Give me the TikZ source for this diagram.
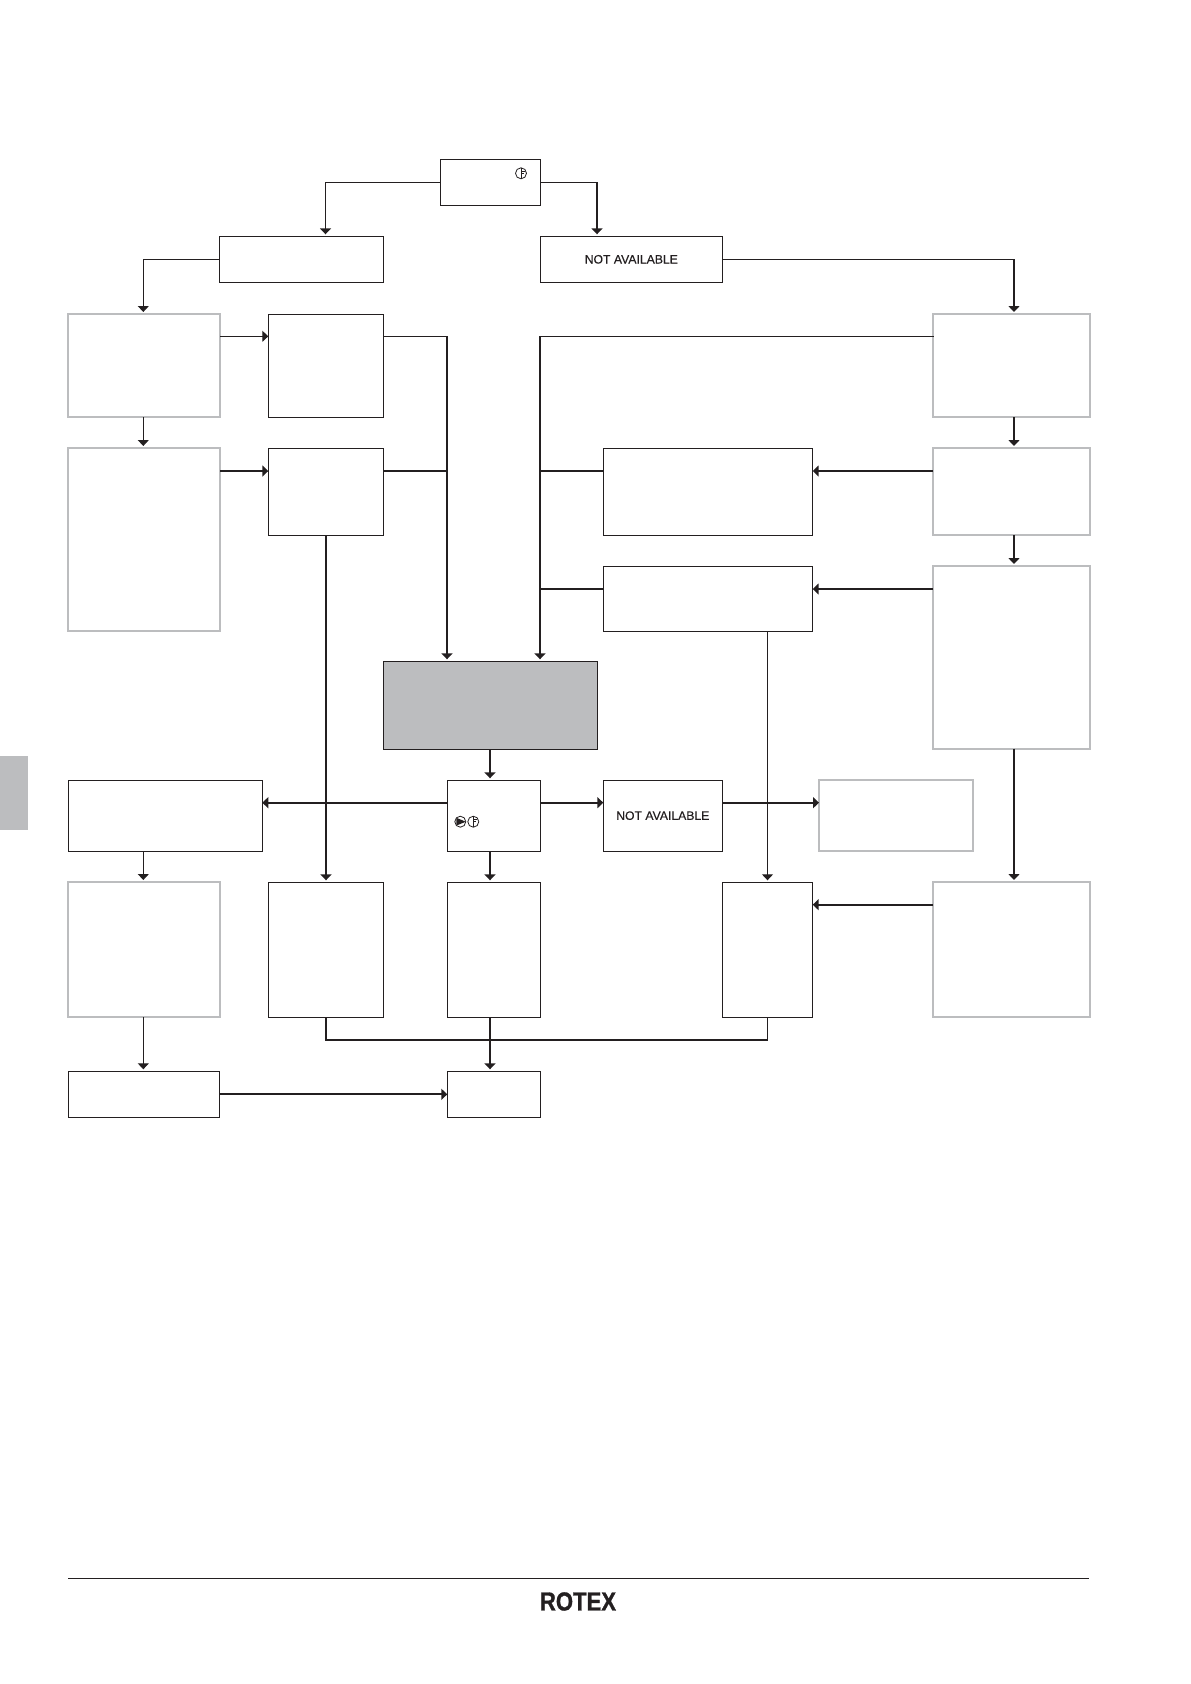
\documentclass[tikz,border=0pt]{standalone}
\usepackage{fontspec}
\setmainfont[FakeBold=0.25]{Liberation Sans}
\newfontfamily\logofont[FakeBold=1.2]{Liberation Sans Bold}
\usetikzlibrary{positioning,arrows.meta,calc}
\definecolor{rgray}{HTML}{BCBDBF}
\definecolor{rink}{HTML}{231F20}
\begin{document}
\begin{tikzpicture}[
x=1pt,y=-1pt,
>={Stealth[length=6pt,width=11pt,inset=0pt]},
every node/.style={anchor=north west,inner sep=0pt,outer sep=0pt},
blackbox/.style={draw=rink,line width=1pt,fill=white,font=\fontsize{12.2}{14}\selectfont,text=rink},
graybox/.style={draw=rgray,line width=2pt,fill=white},
fillbox/.style={draw=rink,line width=1pt,fill=rgray},
thinline/.style={draw=rink,line width=1pt,line cap=rect},
thickline/.style={draw=rink,line width=1.8pt},
downarrow/.style={->,shorten >=2pt},
icon/.style={circle,anchor=center,draw=rink,line width=.8pt,minimum size=11pt}]
\useasboundingbox (0,0) rectangle (1191,1684);
\node (tab) [fill=rgray,minimum width=28pt,minimum height=74pt] at (0,756) {};
\node (top) [blackbox,minimum width=100pt,minimum height=46pt] at (440.3,159.3) {};
\node (conf) [blackbox,minimum width=164.7pt,minimum height=46pt] at (219,236.3) {};
\node (naup) [blackbox,minimum width=182pt,minimum height=46pt] at (540.3,236.3) {NOT AVAILABLE};
\node (l1) [graybox,minimum width=152pt,minimum height=103pt] at (68,314) {};
\node (b1) [blackbox,minimum width=115.4pt,minimum height=103pt] at (268.3,314.3) {};
\node (r1) [graybox,minimum width=157pt,minimum height=103pt] at (933,314) {};
\node (l2) [graybox,minimum width=152pt,minimum height=183pt] at (68,448) {};
\node (b2) [blackbox,minimum width=115.4pt,minimum height=87pt] at (268.3,448.3) {};
\node (m1) [blackbox,minimum width=209.4pt,minimum height=87pt] at (603.3,448.3) {};
\node (r2) [graybox,minimum width=157pt,minimum height=87pt] at (933,448) {};
\node (m2) [blackbox,minimum width=209.4pt,minimum height=65pt] at (603.3,566.3) {};
\node (r3) [graybox,minimum width=157pt,minimum height=182.7pt] at (933,566) {};
\node (mid) [fillbox,minimum width=214pt,minimum height=87.7pt] at (383.7,661.3) {};
\node (w) [blackbox,minimum width=194pt,minimum height=70.7pt] at (68.3,780.3) {};
\node (c) [blackbox,minimum width=93pt,minimum height=70.7pt] at (447.3,780.3) {};
\node (nadown) [blackbox,minimum width=119pt,minimum height=70.7pt] at (603.3,780.3) {NOT AVAILABLE};
\node (g) [graybox,minimum width=154.3pt,minimum height=70.7pt] at (819,780) {};
\node (gb) [graybox,minimum width=152pt,minimum height=135pt] at (68,882) {};
\node (b3) [blackbox,minimum width=115.4pt,minimum height=135pt] at (268.3,882.3) {};
\node (c3) [blackbox,minimum width=93pt,minimum height=135pt] at (447.3,882.3) {};
\node (b4) [blackbox,minimum width=90.4pt,minimum height=135pt] at (722.3,882.3) {};
\node (r4) [graybox,minimum width=157pt,minimum height=135pt] at (933,882) {};
\node (f1) [blackbox,minimum width=151pt,minimum height=46pt] at (68.3,1071.3) {};
\node (f2) [blackbox,minimum width=93pt,minimum height=46pt] at (447.3,1071.3) {};
\node (logo) [anchor=center,transform shape,xscale=.85,font=\fontsize{26}{26}\selectfont\logofont,text=rink] at (578,1601.5) {ROTEX};
\node (ic1) [icon] at (521,173.3) {};
\node (ic2) [icon] at (460.3,821.7) {};
\node (ic3) [icon] at (473.3,821.7) {};
\draw[line width=1pt,rink] (ic1.north) -- (ic1.south);
\draw[line width=.6pt,rink] ([xshift=1pt,yshift=2.5pt]ic1.center) -- +(2.5,0) ([xshift=1pt]ic1.center) -- +(2,0);
\draw[line width=1pt,rink] (ic3.north) -- (ic3.south);
\draw[line width=.6pt,rink] ([xshift=1pt,yshift=2.5pt]ic3.center) -- +(2.5,0) ([xshift=1pt]ic3.center) -- +(2,0);
\fill[rink] (ic2.north west) -- (ic2.east) -- (ic2.south west) -- cycle;
\coordinate (ta) at (325.5,182.3);
\coordinate (tn) at (597,182.3);
\coordinate (ne) at (1014,259.3);
\coordinate (cl) at (143.3,259.3);
\coordinate (rl) at (540,336.3);
\coordinate (bl) at (447,336.3);
\coordinate (jb) at (447,1040);
\coordinate (jc) at (490,1040);
\coordinate (jd) at (767.5,1040);
\draw[thinline] (top.west) -- (ta);
\draw[thickline,downarrow] (ta) -- ([xshift=106.5pt]conf.north west);
\draw[thinline] (top.east) -- (tn);
\draw[thickline,downarrow] (tn) -- ([xshift=56.7pt]naup.north west);
\draw[thinline,downarrow] (conf.west) -| (l1.north -| cl);
\draw[thinline] (naup.east) -- (ne);
\draw[thickline,downarrow] (ne) -- ([xshift=81pt]r1.north west);
\draw[thinline,->] ([yshift=-22.3pt]l1.north east) -- ([yshift=-22pt]b1.north west);
\draw[thinline,downarrow] (l1.south -| cl) -- (l2.north -| cl);
\draw[thickline,->] ([yshift=-23pt]l2.north east) -- ([yshift=-22.7pt]b2.north west);
\draw[thinline] ([yshift=-22pt]b1.north east) -- (bl);
\draw[thickline,downarrow] (bl) -- ([xshift=63.3pt]mid.north west);
\draw[thickline] ([yshift=-22.7pt]b2.north east) -- ([yshift=-22.7pt]b2.north east -| bl);
\draw[thinline] ([yshift=-22.3pt]r1.north west) -- (rl);
\draw[thickline,downarrow] (rl) -- ([xshift=156.3pt]mid.north west);
\draw[thickline] ([yshift=-22.7pt]m1.north west) -- ([yshift=-22.7pt]m1.north west -| rl);
\draw[thickline] ([yshift=-22.7pt]m2.north west) -- ([yshift=-22.7pt]m2.north west -| rl);
\draw[thickline,->] ([yshift=-23pt]r2.north west) -- ([yshift=-22.7pt]m1.north east);
\draw[thickline,->] ([yshift=-23pt]r3.north west) -- ([yshift=-22.7pt]m2.north east);
\draw[thickline,downarrow] ([xshift=81pt]r1.south west) -- ([xshift=81pt]r2.north west);
\draw[thickline,downarrow] ([xshift=81pt]r2.south west) -- ([xshift=81pt]r3.north west);
\draw[thickline,downarrow] ([xshift=81pt]r3.south west) -- ([xshift=81pt]r4.north west);
\draw[thickline,->] ([yshift=-22.7pt]r4.north west) -- ([yshift=-22.4pt]b4.north east);
\draw[thinline,downarrow] (m2.south -| b4.north) -- (b4.north);
\draw[thickline,downarrow] (b2.south) -- (b3.north);
\draw[thickline,downarrow] (mid.south -| jc) -- (c.north -| jc);
\draw[thickline,->] ([yshift=-22.4pt]c.north west) -- ([yshift=-22.4pt]w.north east);
\draw[thickline,->] ([yshift=-22.4pt]c.north east) -- ([yshift=-22.4pt]nadown.north west);
\draw[thickline,->] ([yshift=-22.4pt]nadown.north east) -- ([yshift=-22.7pt]g.north west);
\draw[thickline,downarrow] (c.south -| jc) -- (c3.north -| jc);
\draw[thinline,downarrow] (w.south -| cl) -- (gb.north -| cl);
\draw[thinline,downarrow] (gb.south -| cl) -- (f1.north -| cl);
\draw[thickline] (b3.south) -- (jb -| b3.south) -- (jd);
\draw[thinline] (b4.south) -- (jd);
\draw[thickline,downarrow] (c3.south -| jc) -- (f2.north -| jc);
\draw[thickline,->] (f1.east) -- (f2.west);
\draw[line width=1pt,rink] (68,1578) -- (1089,1578);
\end{tikzpicture}
\end{document}
